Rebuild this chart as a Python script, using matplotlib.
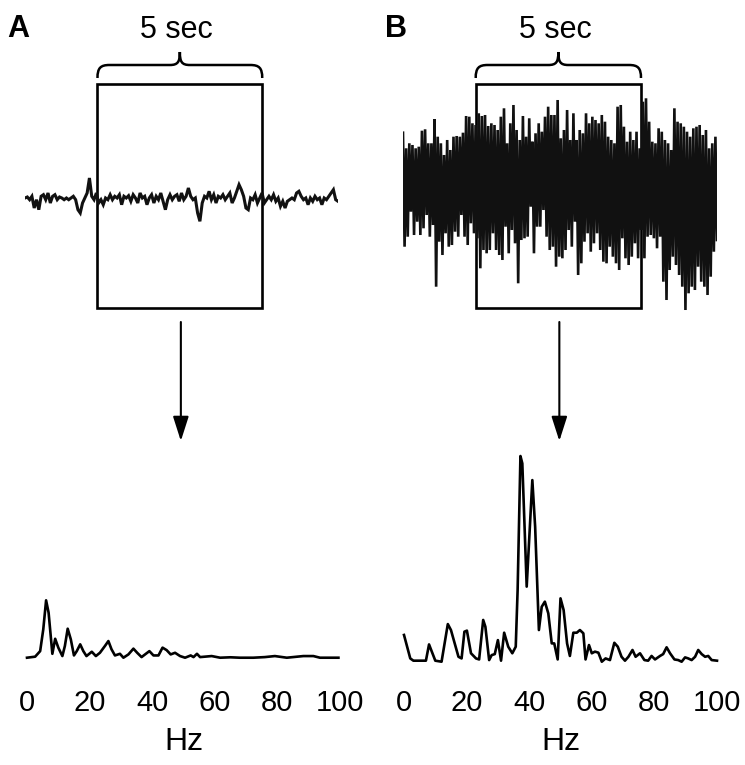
import numpy as np
import matplotlib
matplotlib.use("Agg")
import matplotlib.pyplot as plt
from matplotlib.path import Path
from matplotlib.patches import PathPatch, Rectangle

plt.rcParams['font.family'] = ['Liberation Sans Narrow', 'Liberation Sans', 'DejaVu Sans']

# ---- data ----
# raw trace A, one value per sample (arbitrary units)
trace_a = [0, 1, -1.7, 1.7, -10, -1.7, -11.7, 1.7, 3.3, -1.7, 5, -5, 1.7, 3.3, -1.7, 1, 0,
           -1.7, 0, -1.7, 0, 1.7, -1.7, -11.7, -15, -5, 0, 5, 20, 1.7, -1.7, 5, -5, -1.7,
           -6.7, 0, -1.7, 3.3, -1.7, 1.7, 0, 3.3, -6.7, 1.7, 0, 2.3, -3.3, 3.3, 0, -5, 5, 0,
           1.7, -6.7, 0, 3.3, -5, 1.7, -1.7, 5, -3.3, -11.7, -1.7, 3.3, -1.7, 1.7, 3.3, -3.3,
           5, -1.7, 1.7, 10, 1.7, -1.7, 0, -15, -23.3, -5, 1.7, 0, 6.7, -1.7, 3.3, -5, 1.7, 0,
           3.3, -1.7, 1.7, 5, -5, 0, 6.7, 13.3, 8.3, 1.7, -10, -11.7, 0, -1.7, 3.3, -5, 0, 5,
           -5, -1.7, 1.7, -1.7, 3.3, -3.3, 0, -8.3, -3.3, -10, -3.3, -1.7, 0, -1.7, 5, 6.7,
           1.7, -1.7, 0, -6.7, 0, -3.3, 1.7, -1.7, 0, -6.7, 0, -1.7, 1.7, 5, 8.3, -1.7, -3.3]

# raw trace B: successive upward and downward swings
trace_b_up = [62.3, 46.7, 51.7, 50, 46.7, 48.3, 64.3, 65.7, 51.7, 51.7, 75.7, 58.3, 51.7, 40,
              55, 45, 58.3, 59, 58.3, 62.3, 79, 78.3, 71.7, 70, 81.7, 79, 80, 69, 71.7, 70,
              65, 78.3, 86.7, 51.7, 71.7, 90, 65, 55, 79, 58.3, 76.7, 53.3, 61.7, 71.7, 63.3,
              78.3, 88.3, 80, 80, 95,
              56.7, 65, 85, 55, 81.7, 55, 65, 61.7, 81.7, 71.7, 78.3, 75, 71.7, 80, 73.3,
              58.3, 55, 51.7, 88.3, 90, 68.3, 53.3, 63.3, 55, 63.3, 46.7, 93.3, 96.7, 73.3,
              53.3, 51.7, 66.7, 63.3, 55, 51.7, 45, 86.7, 73.3, 71.7, 68.3, 63.3, 58.3, 66.7,
              68.3, 70, 60, 65, 46.7, 51.7, 58.3]
trace_b_down = [-51.7, -41.7, -16.7, -40, -26.7, -40, -33.3, -20, -41.7, -30, -91.7, -46.7,
                -60, -38.3, -51.7, -50, -36.7, -41.7, -20, -41.7, -50, -28.3, -38.3, -43.3,
                -73.3, -55, -58.3, -55, -38.3, -55, -60, -65, -31.7, -58.3, -35, -48.3, -88.3,
                -45, -43.3, -41.7, -11.7, -58.3, -31.7, -31.7, -15, -41.7, -55, -51.7, -71.7,
                -61.7, -63.3,
                -55, -35, -51.7, -26.7, -80, -68.3, -46.7, -38.3, -56.7, -48.3, -38.3, -55,
                -66.7, -68.3, -51.7, -61.7, -68.3, -75, -43.3, -63.3, -70, -61.7, -48.3,
                -63.3, -35, -63.3, -41.7, -40, -43.3, -53.3, -41.7, -86.7, -105, -75, -61.7,
                -70, -80, -91.7, -115, -98.3, -91.7, -95, -71.7, -86.7, -91.7, -100, -81.7,
                -56.7, -45]

record_len = 9.5      # seconds shown
window_start = 2.2    # start of the 5 s analysis window
window_len = 5.0

# power spectra (Hz, relative power)
freq_a = [0, 2.6, 4.2, 5.2, 6.1, 6.9, 8.1, 9.0, 10.0, 11.3, 12.1, 13.0, 14.0, 15.0, 15.9, 17.0,
          18.0, 19.0, 20.7, 22.0, 23.3, 24.9, 26.0, 27.0, 28.1, 29.7, 30.8, 32.4, 34.0, 35.2,
          36.6, 39.1, 40.4, 42.0, 43.3, 44.6, 45.9, 47.3, 48.9, 50.5, 52.3, 53.2, 54.3, 55.3,
          59.0, 61.7, 65, 68, 72.3, 76, 79.2, 83, 88.3, 91.5, 93.6, 99.5]
power_a = [0, 0.5, 3.2, 13.8, 27.9, 21.9, 1.9, 9.2, 4.9, 0.8, 5.7, 14.1, 8.9, 1.1, 3.2, 6.5,
           3.2, 0.8, 2.9, 0.8, 2.4, 5.7, 8.1, 4.1, 1.1, 1.9, 0, 1.6, 4.4, 2.4, 0.3, 3.2, 1.1,
           1.1, 4.9, 3.7, 1.6, 2.4, 0.8, 0, 1.1, 0.3, 1.9, 0.3, 0.8, 0, 0.2, 0, 0, 0.3, 0.8,
           0, 0.8, 0.8, 0, 0]

freq_b = [0, 2, 3, 7, 8, 10, 12, 14, 15, 17.4, 18.4, 19.3, 20.1, 21.4, 23, 24, 25.3, 26, 27.2,
          28, 29, 30, 31, 32, 33.3, 34.6, 35.7, 36.3, 37.2, 37.8, 39.2, 41, 41.9, 43.1, 44, 45,
          46.1, 47.2, 48, 49.1, 50, 51, 52.1, 53, 54.1, 55.2, 56.2, 57.3, 58, 59.1, 60, 61,
          62.1, 63.2, 64.4, 65.8, 67.2, 68.3, 69.5, 70.6, 71.7, 73, 74, 75.4, 76.8, 78, 79.1,
          80.2, 81.8, 82.8, 83.9, 85, 86.4, 87.6, 88.7, 89.8, 90.8, 91.9, 93, 94, 95.1, 96.2,
          97.2, 98.3, 100]
power_b = [13.0, 1.6, 0.5, 0.5, 8.4, 0.5, 0, 18.3, 15.4, 2.4, 1.6, 14.6, 15.1, 4.1, 1.6, 1.1,
           20.3, 17.0, 0.8, 3.2, 3.7, 10.5, 0.5, 14.1, 7.3, 4.1, 7.3, 34.8, 100, 96.4, 36.5,
           88.3, 65.6, 15.4, 26.7, 29.2, 23.5, 8.9, 8.9, 1.1, 30.8, 25.1, 8.9, 2.8, 14.1, 14.1,
           15.4, 13.8, 1.1, 8.1, 4.1, 4.9, 4.4, 0, 1.6, 0.8, 9.2, 7.3, 2.4, 0.5, 2.4, 5.7, 2.4,
           4.1, 0.8, 0.5, 2.8, 1.1, 2.8, 3.7, 7.0, 4.1, 1.1, 0.8, 0, 2.1, 1.6, 0.8, 2.4, 5.7,
           3.7, 2.4, 2.8, 0.8, 0.5]

hz_ticks = [0, 20, 40, 60, 80, 100]

# ---- figure ----
W, H = 745, 765
fig = plt.figure(figsize=(W / 100, H / 100), dpi=100)


def px_axes(left, top, right, bottom):
    return fig.add_axes([left / W, 1 - bottom / H, (right - left) / W, (bottom - top) / H])


# overlay in pixel coordinates for the annotations
ov = fig.add_axes([0, 0, 1, 1])
ov.set_xlim(0, W)
ov.set_ylim(H, 0)
ov.axis('off')

n_b = min(len(trace_b_up), len(trace_b_down))
trace_b = np.empty(2 * n_b)
trace_b[0::2] = trace_b_up[:n_b]
trace_b[1::2] = trace_b_down[:n_b]

panels = [
    # label, trace, trace x-extent, trace centre, trace lw, freq, power, spec x-extent, baseline
    ('A', trace_a, (25, 338), 198, 2.2, freq_a, power_a, (27, 340), 658),
    ('B', trace_b, (403, 717), 195, 1.9, freq_b, power_b, (404, 717), 662),
]

for label, tr, (x0, x1), yc, lw, fq, pw, (s0, s1), base in panels:
    # raw trace
    ax = px_axes(x0, yc - 120, x1, yc + 120)
    t = np.linspace(0, record_len, len(tr))
    ax.plot(t, tr, color='#111111', lw=lw, solid_joinstyle='miter')
    ax.set_xlim(0, record_len)
    ax.set_ylim(-120, 120)
    ax.axis('off')

    # analysis window box
    bx0 = x0 + window_start / record_len * (x1 - x0)
    bx1 = x0 + (window_start + window_len) / record_len * (x1 - x0)
    ov.add_patch(Rectangle((bx0, 84), bx1 - bx0, 224, fill=False, lw=1.9,
                           ec='black', zorder=5))

    # curly brace
    mid = (bx0 + bx1) / 2
    verts = [(bx0, 78), (bx0, 68), (bx0 + 3, 65), (bx0 + 12, 65),
             (mid - 10, 65),
             (mid - 2, 65), (mid, 62), (mid, 52),
             (mid, 62), (mid + 2, 65), (mid + 10, 65),
             (bx1 - 12, 65),
             (bx1 - 3, 65), (bx1, 68), (bx1, 78)]
    codes = [Path.MOVETO, Path.CURVE4, Path.CURVE4, Path.CURVE4,
             Path.LINETO,
             Path.CURVE4, Path.CURVE4, Path.CURVE4,
             Path.CURVE4, Path.CURVE4, Path.CURVE4,
             Path.LINETO,
             Path.CURVE4, Path.CURVE4, Path.CURVE4]
    ov.add_patch(PathPatch(Path(verts, codes), fill=False, lw=1.8, ec='black'))
    ov.text(mid - 3, 30, '5 sec', ha='center', va='center', fontsize=22,
            family=['Liberation Sans', 'DejaVu Sans'])

    # arrow down to spectrum
    ov.annotate('', xy=(mid + 1, 441), xytext=(mid + 1, 322),
                arrowprops=dict(arrowstyle='-|>,head_length=1.0,head_width=0.32',
                                mutation_scale=15, lw=1.5, color='black',
                                shrinkA=0, shrinkB=0))

    # panel letter
    ov.text(x0 - 18, 29, label, ha='left', va='center', fontsize=22, fontweight='bold',
            family=['Liberation Sans', 'DejaVu Sans'])

    # spectrum
    sp = px_axes(s0, base + 3 - 210, s1, base + 3)
    sp.plot(fq, pw, color='black', lw=1.9, clip_on=False, solid_joinstyle='round')
    sp.set_xlim(0, 100)
    sp.set_ylim(-1.6, 100.5)
    sp.set_xticks(hz_ticks)
    sp.set_yticks([])
    pad = 20.5 - (base - 658) * 0.72
    sp.tick_params(axis='x', length=0, pad=pad, labelsize=21)
    for s in sp.spines.values():
        s.set_visible(False)
    sp.patch.set_visible(False)
    sp.set_xlabel('Hz', fontsize=23, labelpad=7)

fig.savefig('out.png', dpi=100)
